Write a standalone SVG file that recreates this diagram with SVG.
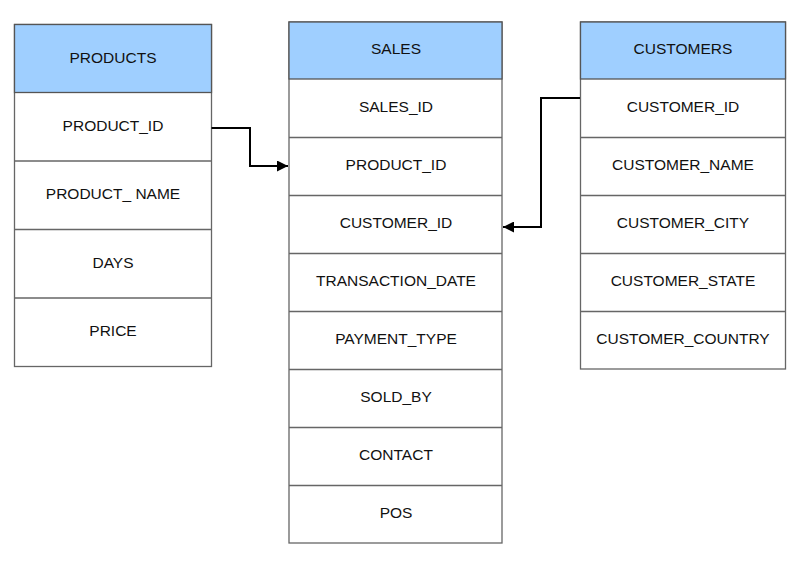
<svg xmlns="http://www.w3.org/2000/svg" width="800" height="565" viewBox="0 0 800 565">
<style>
.hd{fill:#9fcfff;stroke:#555;stroke-width:1.3}
.rw{fill:#fff;stroke:#666;stroke-width:1.3}
text{font-family:"Liberation Sans",Arial,sans-serif;font-size:15.5px;fill:#111;text-anchor:middle;dominant-baseline:central}
.cn{fill:none;stroke:#000;stroke-width:2}
</style>
<defs>
<marker id="ah" viewBox="0 0 10 10" refX="10" refY="5" markerWidth="8" markerHeight="5.5" markerUnits="strokeWidth" orient="auto"><path d="M0,0 L10,5 L0,10 z" fill="#000"/></marker>
</defs>
<rect width="800" height="565" fill="#fff"/>
<g id="products">
<rect class="rw" x="14.5" y="24.5" width="197" height="342"/>
<rect class="hd" x="14.5" y="24.5" width="197" height="68"/>
<line class="rw" x1="14.5" y1="161" x2="211.5" y2="161"/>
<line class="rw" x1="14.5" y1="229.5" x2="211.5" y2="229.5"/>
<line class="rw" x1="14.5" y1="298" x2="211.5" y2="298"/>
<text x="113" y="57">PRODUCTS</text>
<text x="113" y="125">PRODUCT_ID</text>
<text x="113" y="193">PRODUCT_ NAME</text>
<text x="113" y="262">DAYS</text>
<text x="113" y="330">PRICE</text>
</g>
<g id="sales">
<rect class="rw" x="289" y="22" width="213" height="521"/>
<rect class="hd" x="289" y="22" width="213" height="57"/>
<line class="rw" x1="289" y1="137.5" x2="502" y2="137.5"/>
<line class="rw" x1="289" y1="195.5" x2="502" y2="195.5"/>
<line class="rw" x1="289" y1="253.5" x2="502" y2="253.5"/>
<line class="rw" x1="289" y1="311.5" x2="502" y2="311.5"/>
<line class="rw" x1="289" y1="369.5" x2="502" y2="369.5"/>
<line class="rw" x1="289" y1="427.5" x2="502" y2="427.5"/>
<line class="rw" x1="289" y1="485.5" x2="502" y2="485.5"/>
<text x="396" y="48">SALES</text>
<text x="396" y="106">SALES_ID</text>
<text x="396" y="164">PRODUCT_ID</text>
<text x="396" y="222">CUSTOMER_ID</text>
<text x="396" y="280">TRANSACTION_DATE</text>
<text x="396" y="338">PAYMENT_TYPE</text>
<text x="396" y="396">SOLD_BY</text>
<text x="396" y="454">CONTACT</text>
<text x="396" y="512">POS</text>
</g>
<g id="customers">
<rect class="rw" x="580.5" y="22" width="205" height="347"/>
<rect class="hd" x="580.5" y="22" width="205" height="57"/>
<line class="rw" x1="580.5" y1="137.5" x2="785.5" y2="137.5"/>
<line class="rw" x1="580.5" y1="195.5" x2="785.5" y2="195.5"/>
<line class="rw" x1="580.5" y1="253.5" x2="785.5" y2="253.5"/>
<line class="rw" x1="580.5" y1="311.5" x2="785.5" y2="311.5"/>
<text x="683" y="48">CUSTOMERS</text>
<text x="683" y="106">CUSTOMER_ID</text>
<text x="683" y="164">CUSTOMER_NAME</text>
<text x="683" y="222">CUSTOMER_CITY</text>
<text x="683" y="280">CUSTOMER_STATE</text>
<text x="683" y="338">CUSTOMER_COUNTRY</text>
</g>
<g id="connectors">
<path class="cn" d="M211.5,128 H250 V166 H288" marker-end="url(#ah)"/>
<path class="cn" d="M580,98 H541 V227 H503" marker-end="url(#ah)"/>
</g>
</svg>
